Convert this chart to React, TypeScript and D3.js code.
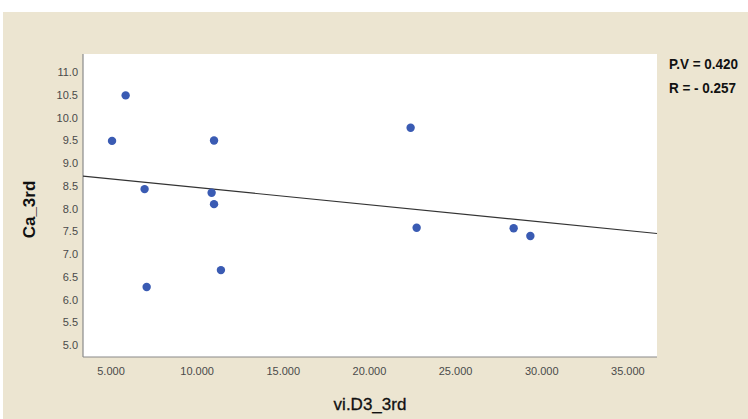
import React from "react";
import * as d3 from "d3";

const xValues = [5.85, 5.06, 10.98, 6.95, 10.84, 10.98, 11.38, 7.07, 22.39, 22.74, 28.37, 29.34];
const yValues = [10.49, 9.49, 9.5, 8.43, 8.35, 8.1, 6.65, 6.28, 9.78, 7.58, 7.57, 7.4];
const xTicks = [5, 10, 15, 20, 25, 30, 35];
const yTicks = [5, 5.5, 6, 6.5, 7, 7.5, 8, 8.5, 9, 9.5, 10, 10.5, 11];
const fitLine = [8.842, -0.0378]; // intercept, slope
const statLabels = ["P.V = 0.420", "R = - 0.257"];

export default function App() {
  const W = 748, H = 419;
  const left = 83, right = 657, top = 54, bottom = 357;
  const x = d3.scaleLinear().domain([3.375, 36.69]).range([left, right]);
  const y = d3.scaleLinear().domain([4.74, 11.4]).range([bottom, top]);
  const fmtX = d3.format(",.3f");
  const fmtY = d3.format(".1f");
  const [b0, b1] = fitLine;
  const line = d3.line<number>().x((d) => x(d)).y((d) => y(b0 + b1 * d));
  const xd = x.domain();
  return (
    <svg width={W} height={H} style={{ position: "absolute", left: 0, top: 0, display: "block" }}>
      <rect x={0} y={0} width={W} height={H} fill="#ffffff" />
      <rect x={3} y={12} width={W - 3} height={H - 12} fill="#ECE5D1" />
      <rect x={left} y={top} width={right - left} height={bottom - top} fill="#ffffff" />
      <line x1={left} x2={left} y1={top} y2={bottom} stroke="#8a8a8a" strokeWidth={1.2} />
      <line x1={left} x2={right} y1={bottom} y2={bottom} stroke="#8a8a8a" strokeWidth={1.2} />
      <path d={line(xd) || ""} stroke="#333" strokeWidth={1.2} fill="none" />
      {xValues.map((v, i) => (
        <circle key={i} cx={x(v)} cy={y(yValues[i])} r={4.2} fill="#3A5BB3" />
      ))}
      {yTicks.map((t) => (
        <text key={t} x={78} y={y(t)} dy="0.35em" textAnchor="end" fontFamily="Arial, 'Liberation Sans', sans-serif" fontSize={11} fill="#4a4a4a">
          {fmtY(t)}
        </text>
      ))}
      {xTicks.map((t) => (
        <text key={t} x={x(t)} y={371} dy="0.35em" textAnchor="middle" fontFamily="Arial, 'Liberation Sans', sans-serif" fontSize={11} fill="#4a4a4a">
          {fmtX(t).replace(",", ".")}
        </text>
      ))}
      <text x={370} y={404} dy="0.35em" textAnchor="middle" fontFamily="Arial, 'Liberation Sans', sans-serif" fontSize={17} fill="#111" stroke="#111" strokeWidth={0.3}>
        vi.D3_3rd
      </text>
      <text transform={`translate(29,${(top + bottom) / 2 + 4}) rotate(-90)`} dy="0.35em" textAnchor="middle" fontFamily="Arial, 'Liberation Sans', sans-serif" fontSize={17} fontWeight="bold" fill="#111">
        Ca_3rd
      </text>
      {statLabels.map((s, i) => (
        <text key={s} transform={`translate(669,${64 + i * 24}) scale(0.9,1)`} dy="0.35em" fontFamily="'Liberation Sans Narrow', 'Arial Narrow', Arial, sans-serif" fontSize={15} fontWeight="bold" fill="#111">
          {s}
        </text>
      ))}
    </svg>
  );
}
